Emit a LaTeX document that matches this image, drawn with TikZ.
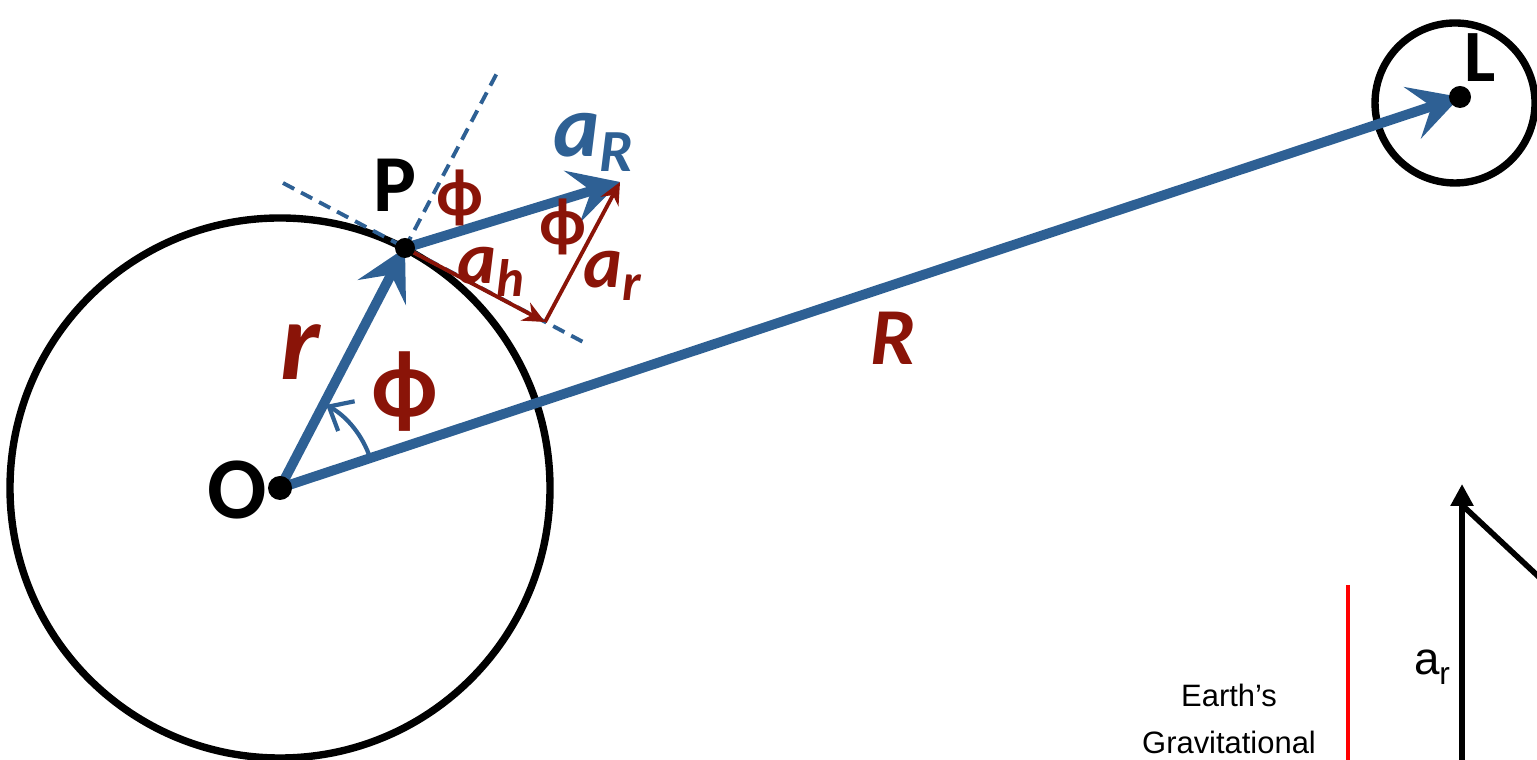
\documentclass[tikz,border=0pt]{standalone}
\usepackage{fontspec}
\setmainfont{Carlito}
\newfontfamily\arialfont{Liberation Sans}
\usetikzlibrary{arrows.meta}
\definecolor{vecblue}{RGB}{46,96,148}
\definecolor{darkred}{RGB}{138,20,8}
\newcommand{\fs}[1]{\fontsize{#1}{#1}\selectfont}
\newcommand{\vsub}[4]{\fs{#1}#2\raisebox{-0.35ex}{\fs{#3}#4}}

\begin{document}
\begin{tikzpicture}[
    bigvec/.style={vecblue, line width=2.8pt, -{Stealth[length=5mm,width=5.4mm,inset=2mm]}},
    redvec/.style={darkred, line width=1.1pt, -{Stealth[length=2.2mm,width=2mm]}},
    guide/.style={vecblue, line width=1.1pt, dash pattern=on 3.6pt off 2.2pt},
    ring/.style={line width=2.1pt},
    lbl/.style={darkred, font=\bfseries\itshape},
    pt/.style={font=\bfseries},
    ]
    \useasboundingbox (0,0) rectangle (15.37,7.6);

    % points
    \coordinate (O) at (2.80,2.72);
    \coordinate (P) at (4.05,5.12);
    \coordinate (L) at (14.60,6.63);
    \coordinate (aR) at (6.20,5.78);
    \coordinate (ah) at (5.45,4.38);
    \coordinate (tanA) at (2.83,5.77);
    \coordinate (tanB) at (5.85,4.17);
    \coordinate (radA) at (4.97,6.87);

    % earth and moon
    \draw[ring] (O) circle (2.70);
    \draw[ring] (14.55,6.57) circle (0.80);

    % guide lines at P
    \draw[guide] (tanA) -- (tanB);
    \draw[guide] (P) -- (radA);

    % vectors
    \draw[bigvec] (O) -- (L);
    \draw[bigvec] (O) -- (P);
    \draw[bigvec] (P) -- (aR);
    \draw[redvec] (P) -- (ah);
    \draw[redvec] (ah) -- (aR);
    \draw[vecblue, line width=1.2pt, -{Straight Barb[length=2mm,width=3.4mm]}]
        ([shift={(18.3:0.95)}]O) arc[start angle=18.3, end angle=61, radius=0.95];

    \foreach \c/\r in {O/0.12, P/0.10, L/0.11}
        {\fill (\c) circle (\r);}

    % labels
    \node[pt] (olbl) at (2.37,2.70) {\fs{25}O};
    \node[pt] (plbl) at (3.95,5.75) {\fs{23}P};
    \node[pt] (llbl) at (14.80,7.02) {\fs{21}L};
    \node[lbl] (rlbl) at (3.00,4.08) {\fs{32}r};
    \node[lbl] (Rlbl) at (8.93,4.22) {\fs{23}R};
    \node[pt, darkred] (phi1) at (4.05,3.68) {\fs{27}ϕ};
    \node[pt, darkred] (phi2) at (4.60,5.62) {\fs{19}ϕ};
    \node[pt, darkred] (phi3) at (5.63,5.33) {\fs{19}ϕ};
    \node[lbl, vecblue] (aRlbl) at (5.93,6.18) {\vsub{25}{a}{17}{R}};
    \node[lbl] (ahlbl) at (4.91,4.88) {\vsub{21}{a}{15}{h}};
    \node[lbl] (arlbl) at (6.12,4.84) {\vsub{21}{a}{15}{r}};

    % acceleration sketch, bottom right
    \coordinate (ax0) at (14.62,0);
    \coordinate (ax1) at (14.62,2.76);
    \coordinate (dg0) at (14.62,2.55);
    \coordinate (dg1) at (15.40,1.82);
    \coordinate (rd0) at (13.48,1.75);
    \coordinate (rd1) at (13.48,0);
    \draw[line width=1.6pt, -{Triangle[length=2.2mm,width=2.2mm]}] (ax0) -- (ax1);
    \draw[line width=1.6pt] (dg0) -- (dg1);
    \draw[red, line width=1.3pt] (rd0) -- (rd1);
    \node[font=\arialfont] (arsk) at (14.32,0.93) {\fs{13}a\raisebox{-0.4ex}{\fs{9}r}};
    \node[font=\arialfont] (earth) at (12.29,0.65) {\fs{8.8}Earth’s};
    \node[font=\arialfont] (grav) at (12.29,0.18) {\fs{8.8}Gravitational};
\end{tikzpicture}
\end{document}
